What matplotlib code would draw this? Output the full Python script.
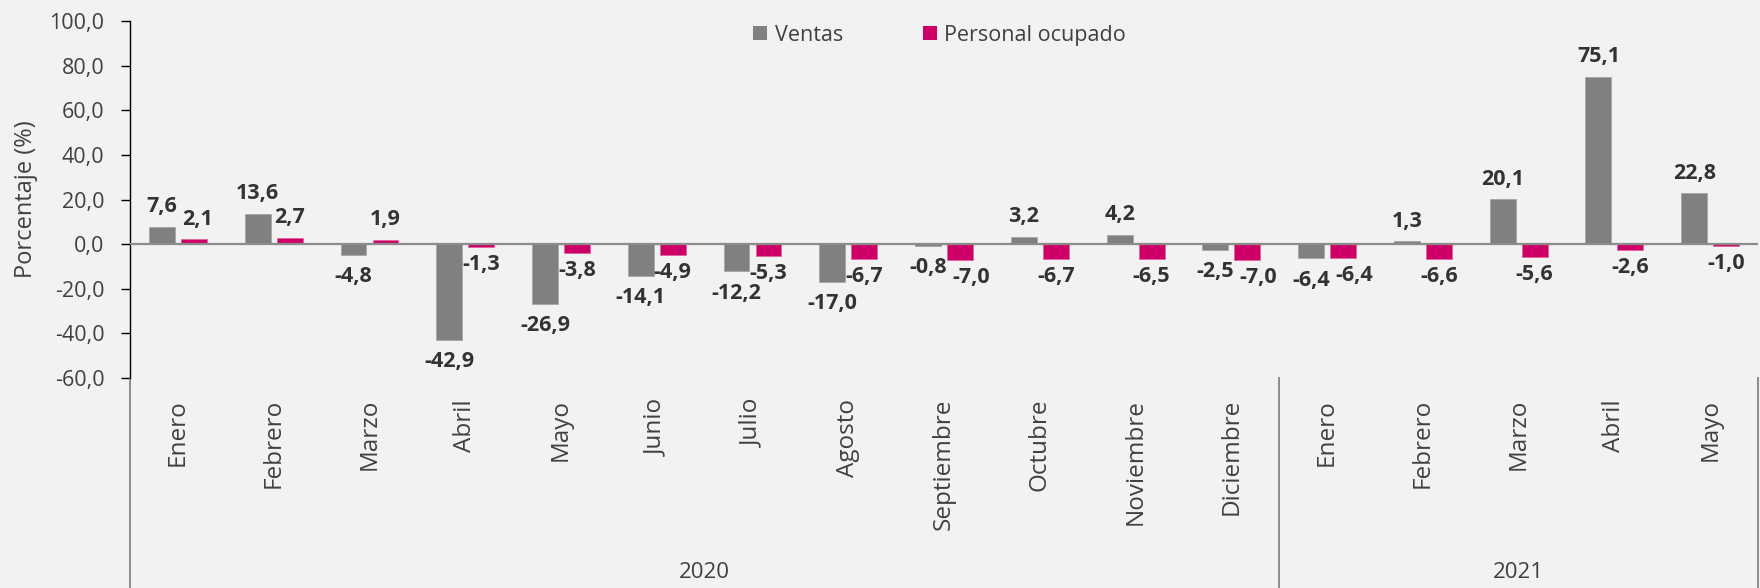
import matplotlib.pyplot as plt
from matplotlib.patches import Patch

# ---------- data -----------------------------------------------------------
meses = ['Enero', 'Febrero', 'Marzo', 'Abril', 'Mayo', 'Junio', 'Julio',
         'Agosto', 'Septiembre', 'Octubre', 'Noviembre', 'Diciembre',
         'Enero', 'Febrero', 'Marzo', 'Abril', 'Mayo']
anios = ['2020', '2021']
meses_por_anio = [12, 5]

ventas = [7.6, 13.6, -4.8, -42.9, -26.9, -14.1, -12.2, -17.0, -0.8, 3.2,
          4.2, -2.5, -6.4, 1.3, 20.1, 75.1, 22.8]
personal = [2.1, 2.7, 1.9, -1.3, -3.8, -4.9, -5.3, -6.7, -7.0, -6.7,
            -6.5, -7.0, -6.4, -6.6, -5.6, -2.6, -1.0]

y_ticks = [-60, -40, -20, 0, 20, 40, 60, 80, 100]

# ---------- style ----------------------------------------------------------
plt.rcParams['font.family'] = ['Open Sans', 'DejaVu Sans']
bg = '#f2f2f2'
txt = '#404040'
c_ventas = '#808080'
c_personal = '#cc0066'

fig = plt.figure(figsize=(17.6, 5.88), dpi=100, facecolor=bg)
ax = fig.add_axes([0.0739, 0.357, 0.925, 0.6073])
ax.set_facecolor(bg)

x = list(range(len(meses)))
w = 0.27
off = 0.167

b1 = ax.bar([i - off for i in x], ventas, width=w, color=c_ventas,
            edgecolor='#a6a6a6', linewidth=0.6, zorder=2)
b2 = ax.bar([i + off for i in x], personal, width=w, color=c_personal,
            edgecolor='#e0669f', linewidth=0.6, zorder=2)

def fmt(v):
    return f'{v:.1f}'.replace('.', ',')

labels = []
for bars, vals, neg_off in ((b1, ventas, -8), (b2, personal, -5)):
    row = []
    for b, v in zip(bars, vals):
        cx = b.get_x() + b.get_width() / 2
        if v >= 0:
            t = ax.annotate(fmt(v), (cx, v), xytext=(0, 7), textcoords='offset points',
                            ha='center', va='bottom', fontsize=15.5,
                            fontweight='bold', color='#333333')
        else:
            t = ax.annotate(fmt(v), (cx, v), xytext=(0, neg_off), textcoords='offset points',
                            ha='center', va='top', fontsize=15.5,
                            fontweight='bold', color='#333333')
        row.append(t)
    labels.append(row)

# nudge personal labels to the right when they collide with the ventas label
fig.canvas.draw()
r = fig.canvas.get_renderer()
for ta, tb in zip(labels[0], labels[1]):
    ea, eb = ta.get_window_extent(r), tb.get_window_extent(r)
    if ea.overlaps(eb):
        dx = (ea.x1 - eb.x0 + 3) * 72 / fig.dpi
        ox, oy = tb.xyann
        tb.xyann = (ox + dx, oy)

ax.axhline(0, color='#8c8c8c', lw=1.6, zorder=3)

ax.set_xlim(-0.5, len(meses) - 0.5)
ax.set_ylim(-60, 100)
ax.set_yticks(y_ticks)
ax.set_yticklabels([fmt(t) for t in y_ticks], fontsize=15.5, color=txt)
ax.tick_params(axis='y', direction='out', length=6.5, width=1, color='black', pad=12)
ax.set_xticks(x)
ax.set_xticklabels(meses, rotation=90, fontsize=17.5, color=txt)
ax.tick_params(axis='x', length=0, pad=15)
ax.set_ylabel('Porcentaje (%)', fontsize=17, color=txt, labelpad=8)

for s in ('top', 'right', 'bottom'):
    ax.spines[s].set_visible(False)
ax.spines['left'].set_color('black')
ax.spines['left'].set_linewidth(1)

# ---------- category-axis separators and year labels ----------------------
pos = 0
bottom = -0.6
ax.plot([0, 0], [0, bottom], transform=ax.transAxes, clip_on=False,
        color='#8c8c8c', lw=1.4)
n = len(meses)
for anio, k in zip(anios, meses_por_anio):
    x0, x1 = pos / n, (pos + k) / n
    ax.plot([x1, x1], [0, bottom], transform=ax.transAxes, clip_on=False,
            color='#8c8c8c', lw=1.4)
    ax.text((x0 + x1) / 2, -0.545, anio, transform=ax.transAxes,
            ha='center', va='center', fontsize=16, color=txt)
    pos += k

# ---------- legend ---------------------------------------------------------
handles = [Patch(facecolor=c_ventas, label='Ventas'),
           Patch(facecolor=c_personal, label='Personal ocupado')]
fig.legend(handles=handles, loc='center', bbox_to_anchor=(0.534, 0.94), ncol=2,
           frameon=False, fontsize=15.5, handlelength=0.65, handleheight=0.65,
           handletextpad=0.35, columnspacing=3.7, labelcolor=txt)

fig.savefig('out.png', dpi=100, facecolor=bg)
